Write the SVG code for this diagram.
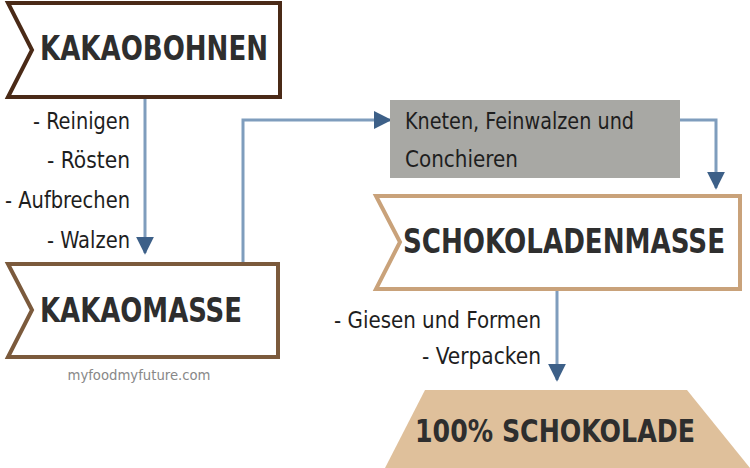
<svg xmlns="http://www.w3.org/2000/svg" width="750" height="468" viewBox="0 0 750 468">
<defs>
<style>
.t{font-family:"DejaVu Sans Condensed","Liberation Sans",sans-serif;font-weight:bold;fill:#2e2e2e;text-anchor:middle;dominant-baseline:middle}
.l{font-family:"DejaVu Sans Condensed","Liberation Sans",sans-serif;fill:#1e1e1e;font-size:23px;text-anchor:end;dominant-baseline:middle}
.c{fill:none;stroke:#7f9dbd;stroke-width:3}
</style>
<marker id="b" viewBox="0 0 10 10" refX="9" refY="5" markerWidth="6" markerHeight="6" orient="auto"><path d="M0,0L10,5L0,10Z" fill="#3d6088"/></marker>
</defs>
<rect width="750" height="468" fill="#fff"/>
<g id="connectors">
<path class="c" d="M145,97V253" marker-end="url(#b)"/>
<path class="c" d="M243,262V120H390" marker-end="url(#b)"/>
<path class="c" d="M680,120H716V188" marker-end="url(#b)"/>
<path class="c" d="M557,290V380" marker-end="url(#b)"/>
</g>
<g id="kakaobohnen">
<path d="M8,3H280V97H8L32,50Z" fill="#fff" stroke="#4a2a17" stroke-width="4"/>
<text class="t" x="154" y="50" font-size="34" textLength="228" lengthAdjust="spacingAndGlyphs">KAKAOBOHNEN</text>
</g>
<g id="labels1">
<text class="l" x="130" y="122" textLength="97" lengthAdjust="spacingAndGlyphs">- Reinigen</text>
<text class="l" x="130" y="161" textLength="83" lengthAdjust="spacingAndGlyphs">- Rösten</text>
<text class="l" x="130" y="201" textLength="125" lengthAdjust="spacingAndGlyphs">- Aufbrechen</text>
<text class="l" x="130" y="241" textLength="83" lengthAdjust="spacingAndGlyphs">- Walzen</text>
</g>
<g id="kakaomasse">
<path d="M8,264H278V357H8L32,310Z" fill="#fff" stroke="#7b5a3c" stroke-width="4"/>
<text class="t" x="141" y="312" font-size="34" textLength="202" lengthAdjust="spacingAndGlyphs">KAKAOMASSE</text>
<text x="139" y="376" font-family="DejaVu Sans Condensed, Liberation Sans, sans-serif" font-size="14" fill="#888" text-anchor="middle" dominant-baseline="middle" textLength="143" lengthAdjust="spacingAndGlyphs">myfoodmyfuture.com</text>
</g>
<g id="kneten">
<rect x="390" y="100" width="290" height="78" fill="#a8a8a4"/>
<text class="l" x="405" y="122" style="text-anchor:start" textLength="229" lengthAdjust="spacingAndGlyphs">Kneten, Feinwalzen und</text>
<text class="l" x="405" y="160" style="text-anchor:start" textLength="113" lengthAdjust="spacingAndGlyphs">Conchieren</text>
</g>
<g id="schokoladenmasse">
<path d="M376,196H740V289H376L400,242Z" fill="#fff" stroke="#c9a27a" stroke-width="4"/>
<text class="t" x="564" y="243" font-size="34" textLength="322" lengthAdjust="spacingAndGlyphs">SCHOKOLADENMASSE</text>
</g>
<g id="labels2">
<text class="l" x="541" y="321" textLength="207" lengthAdjust="spacingAndGlyphs">- Giesen und Formen</text>
<text class="l" x="541" y="357" textLength="119" lengthAdjust="spacingAndGlyphs">- Verpacken</text>
</g>
<g id="schokolade">
<path d="M425,390H687L750,468H385Z" fill="#dfc09b"/>
<text class="t" x="555" y="433" font-size="32" textLength="280" lengthAdjust="spacingAndGlyphs">100% SCHOKOLADE</text>
</g>
</svg>
